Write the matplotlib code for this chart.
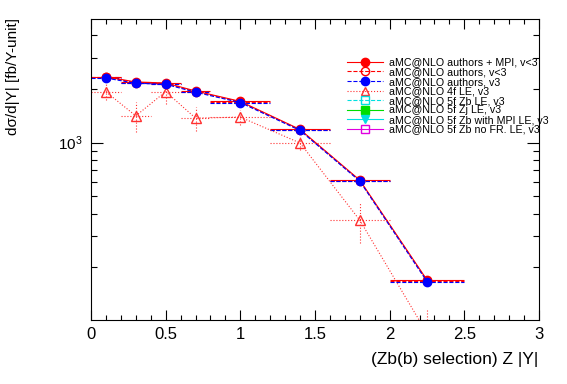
import matplotlib
matplotlib.use("Agg")
import matplotlib.pyplot as plt
from matplotlib.lines import Line2D
from matplotlib.ticker import FixedLocator, MultipleLocator, NullFormatter

plt.rcParams["font.family"] = ["Liberation Sans", "DejaVu Sans"]
plt.rcParams["mathtext.default"] = "regular"

# |Y| bins (centre and half width)
bin_centres = [0.1, 0.3, 0.5, 0.7, 1.0, 1.4, 1.8, 2.25]
bin_halfwidths = [0.1, 0.1, 0.1, 0.1, 0.2, 0.2, 0.2, 0.25]

# dsigma/d|Y| in fb per unit
mpi_v_lt3 = [2346, 2192, 2164, 1952, 1706, 1187, 616, 169.5]
authors_v_lt3 = [2330, 2175, 2148, 1937, 1694, 1180, 612, 168]
authors_v3 = [2307, 2155, 2128, 1920, 1680, 1171, 608, 166]
le4f_v3 = [1930, 1415, 1935, 1374, 1392, 996, 367, 85]
le4f_v3_err = [200, 270, 290, 210, 135, 90, 95, 30]

legend_labels = [
    "aMC@NLO authors + MPI, v<3",
    "aMC@NLO authors, v<3",
    "aMC@NLO authors, v3",
    "aMC@NLO 4f LE, v3",
    "aMC@NLO 5f Zb LE, v3",
    "aMC@NLO 5f Zj LE, v3",
    "aMC@NLO 5f Zb with MPI LE, v3",
    "aMC@NLO 5f Zb no FR. LE, v3",
]


def draw_series(ax, y, yerr, color, ls, marker, mfc, ms, lw=0.8):
    line, caps, bars = ax.errorbar(
        bin_centres, y, xerr=bin_halfwidths, yerr=yerr,
        color=color, ls=ls, lw=lw, marker=marker, mfc=mfc, mec=color,
        ms=ms, capsize=0, elinewidth=lw,
    )
    for b in bars:
        b.set_linestyle(ls)
    return line


fig = plt.figure(figsize=(5.67, 3.84), dpi=100)
ax = fig.add_axes([0.1605, 0.1667, 0.7901, 0.7838])

draw_series(ax, le4f_v3, le4f_v3_err, "#ff3030", ":", "^", "none", 6.5)
draw_series(ax, authors_v_lt3, None, "red", "--", "o", "none", 6)
draw_series(ax, mpi_v_lt3, None, "red", "-", "o", "red", 6)
draw_series(ax, authors_v3, None, "blue", "--", "o", "blue", 6)

ax.set_yscale("log")
ax.set_xlim(0, 3)
ax.set_ylim(101, 4950)

ax.xaxis.set_major_locator(MultipleLocator(0.5))
ax.xaxis.set_minor_locator(MultipleLocator(0.1))
ax.xaxis.set_major_formatter(plt.FuncFormatter(lambda v, p: f"{v:g}"))
ax.yaxis.set_major_locator(FixedLocator([1000]))
ax.yaxis.set_minor_locator(FixedLocator([200, 300, 400, 500, 600, 700, 800, 900,
                                         2000, 3000, 4000]))
ax.yaxis.set_minor_formatter(NullFormatter())

ax.tick_params(which="both", direction="in", top=True, right=True, width=0.8)
ax.tick_params(axis="x", which="major", length=7.2, labelsize=12, pad=5)
ax.tick_params(axis="x", which="minor", length=3.6)
ax.tick_params(axis="y", which="major", length=8.6, labelsize=11, pad=6)
ax.tick_params(axis="y", which="minor", length=4.3)
for s in ax.spines.values():
    s.set_linewidth(0.8)

ax.set_xlabel("(Zb(b) selection) Z |Y|", fontsize=12.5, loc="right")
ax.xaxis.set_label_coords(0.998, -0.105)
ax.set_ylabel("dσ/d|Y| [fb/Y-unit]", fontsize=11, loc="top")
ax.yaxis.set_label_coords(-0.158, 1.005)

handles = [
    Line2D([], [], color="red", ls="-", marker="o", mfc="red", ms=6, lw=0.8),
    Line2D([], [], color="red", ls="--", marker="o", mfc="none", ms=6, lw=0.8),
    Line2D([], [], color="blue", ls="--", marker="o", mfc="blue", ms=6, lw=0.8),
    Line2D([], [], color="#ff3030", ls=":", marker="^", mfc="none", ms=6, lw=0.8),
    Line2D([], [], color="#00e0e0", ls="--", marker="s", mfc="none", ms=6, lw=0.8),
    Line2D([], [], color="#00dd00", ls="-", marker="s", mfc="#00dd00", ms=6, lw=0.8),
    Line2D([], [], color="#00e0e0", ls="-", marker="v", mfc="#00e0e0", ms=6, lw=0.8),
    Line2D([], [], color="#e000e0", ls="-", marker="s", mfc="none", ms=6, lw=0.8),
]
ax.legend(handles, legend_labels, loc="upper left", bbox_to_anchor=(0.571, 0.872),
          frameon=False, fontsize=7.7, labelspacing=-0.04, handlelength=3.4,
          handletextpad=0.5, borderpad=0, borderaxespad=0)

fig.savefig("out.png", dpi=100)
